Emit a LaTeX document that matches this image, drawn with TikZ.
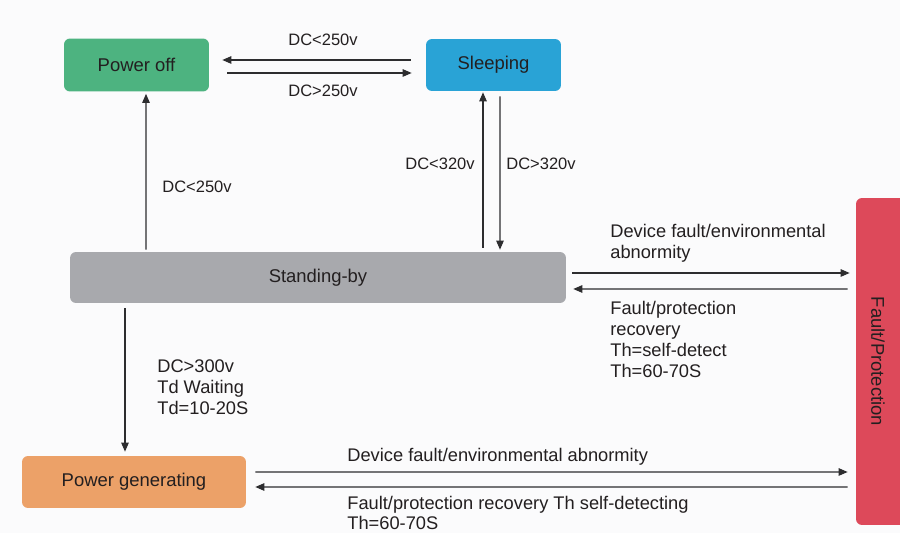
\documentclass[tikz,border=0pt]{standalone}
\usepackage{fontspec}
\setmainfont{Liberation Sans}
\usetikzlibrary{arrows.meta, positioning}

\definecolor{bgwhite}{RGB}{251,251,252}
\definecolor{offgreen}{RGB}{77,179,128}
\definecolor{sleepblue}{RGB}{41,163,214}
\definecolor{standgray}{RGB}{168,169,173}
\definecolor{genorange}{RGB}{236,161,104}
\definecolor{faultred}{RGB}{221,73,90}
\definecolor{txtdark}{RGB}{35,31,32}
\definecolor{linegray}{RGB}{45,45,47}

\begin{document}
\begin{tikzpicture}[
      x=0.02cm, y=-0.02cm,
      statebox/.style={rectangle, rounded corners=0.12cm, inner sep=0pt, align=center, font=\fontsize{10.5}{12}\selectfont, text=txtdark},
      faultbox/.style={rectangle, rounded corners=0.12cm, inner sep=0pt, font=\fontsize{10.5}{12}\selectfont, text=txtdark},
      dclbl/.style={inner sep=0pt, align=left, font=\fontsize{9.4}{11.9}\selectfont, text=txtdark},
      lbl/.style={inner sep=0pt, align=left, font=\fontsize{10.4}{11.9}\selectfont, text=txtdark},
      arrow/.style={-{Triangle[length=1.8mm, width=1.5mm]}, line width=0.6pt, draw=linegray}
      ]

      % Background
      \fill[bgwhite] (0,0) rectangle (900,533);
      \useasboundingbox (0,0) rectangle (900,533);

      % States
      \node[statebox, fill=offgreen, minimum width=2.9cm, minimum height=1.06cm] (off) at (136.5,65) {Power off};
      \node[statebox, fill=sleepblue, minimum width=2.7cm, minimum height=1.04cm] (sleep) at (493.5,65) {Sleeping};
      \node[statebox, fill=standgray, minimum width=9.92cm, minimum height=1.02cm] (stand) at (318,277.5) {Standing-by};
      \node[statebox, fill=genorange, minimum width=4.48cm, minimum height=1.04cm] (gen) at (134,482) {Power generating};
      \node[faultbox, fill=faultred, minimum width=1.08cm, minimum height=6.54cm] (fault) at (883,361.5) {\rotatebox{-90}{Fault/Protection}\kern0.2cm};

      % Arrows - top pair
      \draw[arrow] ([shift={(-15,-5)}]sleep.west) -- ([shift={(13,-5)}]off.east);
      \draw[arrow] ([shift={(18,8)}]off.east) -- ([shift={(-14,8)}]sleep.west);

      % Arrows - vertical
      \draw[arrow] ([shift={(-172,-2)}]stand.north) -- ([shift={(9.5,2)}]off.south);
      \draw[arrow] ([shift={(165,-4)}]stand.north) -- ([shift={(-10.5,1)}]sleep.south);
      \draw[arrow] ([shift={(6.5,5)}]sleep.south) -- ([shift={(182,-2)}]stand.north);
      \draw[arrow] ([shift={(-193,5)}]stand.south) -- ([shift={(-9,-4)}]gen.north);

      % Arrows - to and from fault
      \draw[arrow] ([shift={(6,-4.5)}]stand.east) -- ([shift={(-6,-88.5)}]fault.west);
      \draw[arrow] ([shift={(-8,-72.5)}]fault.west) -- ([shift={(7,11.5)}]stand.east);
      \draw[arrow] ([shift={(9,-10)}]gen.east) -- ([shift={(-8,110.5)}]fault.west);
      \draw[arrow] ([shift={(-8,125.5)}]fault.west) -- ([shift={(9,5)}]gen.east);

      % Labels
      \node[dclbl] (sleepoff) at (323,40) {DC<250v};
      \node[dclbl] (offsleep) at (323,91) {DC>250v};
      \node[dclbl] (standoff) at (197,187) {DC<250v};
      \node[dclbl] (standsleep) at (440,164) {DC<320v};
      \node[dclbl] (sleepstand) at (541,164) {DC>320v};
      \node[lbl, anchor=west] (standfault) at (610,243.5) {Device fault/environmental\\abnormity};
      \node[lbl, anchor=west] (faultstand) at (610,339.5) {Fault/protection\\recovery\\Th=self-detect\\Th=60-70S};
      \node[lbl, anchor=west] (standgen) at (157,387) {DC>300v\\Td Waiting\\Td=10-20S};
      \node[lbl, anchor=west] (genfault) at (347,457) {Device fault/environmental abnormity};
      \node[lbl, anchor=west] (faultgen) at (347,513) {Fault/protection recovery Th self-detecting\\Th=60-70S};

   \end{tikzpicture}
\end{document}
